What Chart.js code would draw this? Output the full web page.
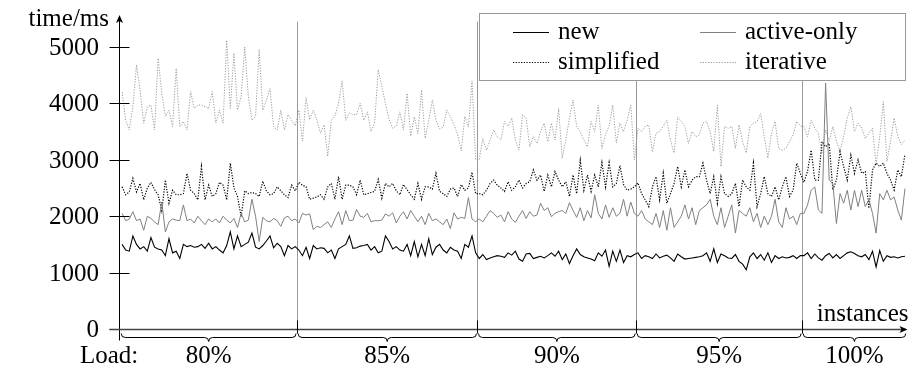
<!DOCTYPE html>
<html>
<head>
<meta charset="utf-8">
<script src="https://cdn.jsdelivr.net/npm/chart.js@4.4.0/dist/chart.umd.min.js"></script>
<style>
  html, body { margin: 0; padding: 0; background: #fff; }
</style>
</head>
<body>
<canvas id="chart" width="910" height="375"></canvas>
<script>
// Load groups along the x axis and how many instances each one holds
const loadLabels = ['80%', '85%', '90%', '95%', '100%'];
const segmentSizes = [49, 50, 44, 46, 29];
const yTicks = [0, 1000, 2000, 3000, 4000, 5000];

// time/ms per instance
const newTimes = [
  1500,1400,1380,1650,1500,1420,1460,1380,1620,1450,1420,1400,1300,1600,1350,1380,1250,1500,1460,1480,1450,1460,1500,1430,1520,1420,1460,1400,1350,1480,1720,1420,1650,1460,1500,1540,1700,1450,1420,1480,1560,1650,1440,1520,1460,1300,1480,1420,1460,
  1400,1300,1450,1250,1480,1420,1440,1430,1350,1400,1250,1420,1460,1500,1650,1430,1440,1470,1480,1500,1400,1460,1350,1380,1650,1550,1420,1460,1400,1380,1500,1300,1550,1280,1500,1300,1600,1320,1450,1500,1400,1350,1450,1400,1380,1250,1500,1450,1650,1350,
  1250,1320,1230,1260,1280,1300,1290,1270,1350,1310,1380,1240,1200,1330,1340,1250,1270,1290,1260,1300,1350,1290,1380,1230,1330,1160,1300,1420,1320,1280,1260,1240,1210,1350,1290,1400,1110,1380,1200,1400,1180,1300,1280,1320,
  1350,1250,1300,1280,1250,1330,1260,1290,1310,1260,1200,1330,1280,1240,1250,1260,1270,1280,1300,1350,1200,1420,1180,1330,1300,1260,1250,1320,1200,1150,1050,1280,1350,1250,1320,1220,1350,1180,1300,1250,1280,1260,1270,1300,1250,1300,
  1300,1350,1250,1330,1260,1220,1300,1340,1260,1320,1250,1300,1350,1370,1340,1300,1280,1320,1230,1380,1100,1390,1200,1300,1270,1280,1260,1280,1290
];

const activeOnlyTimes = [
  2050,1920,1950,2080,1920,1950,1750,2000,1960,1900,1850,2250,1720,1900,1950,1930,1920,2200,1920,1950,1880,2000,1920,1850,1950,1900,1950,1880,2000,1930,1880,1960,1800,2050,1900,1930,2300,2000,1550,1980,1920,1900,1960,1920,1820,1970,2000,1920,1950,
  1880,2050,2020,2040,1760,1820,1800,1850,1900,1800,1950,2080,1850,2100,1920,1930,2120,2000,1980,2050,1900,1920,1920,1930,2040,2000,2060,1880,2000,2080,1950,2100,2000,1900,2000,1850,2050,1920,1950,1900,1850,1950,1780,2060,1950,1980,1960,2330,1950,1900,
  1950,1900,2000,2100,2050,1980,2020,1900,2080,1950,1890,2000,2100,1960,2080,2000,2020,2230,2100,2150,1990,2050,2080,2100,2050,2240,2100,1980,2150,1920,2100,1970,2380,2050,1950,2200,1980,2150,2000,2050,2300,2000,2250,2050,
  2000,2100,1950,1900,1850,2050,1800,2100,1750,2150,1800,1900,2000,2200,1950,2150,1850,2100,2150,2200,2300,2000,1850,2150,1800,2000,2200,1700,2100,2050,2000,2150,1900,2050,1800,2000,1850,2000,2300,1900,1800,2150,1950,2000,1850,2050,
  2050,2200,2460,2520,2110,2050,4360,2640,2580,1870,2400,2230,2460,2110,2460,2170,2460,2170,2290,2050,1700,2400,2290,2460,2290,2340,2110,1930,2490
];

const simplifiedTimes = [
  2520,2380,2430,2670,2430,2580,2290,2500,2600,2470,2380,2100,2640,2230,2460,2380,2380,2400,2760,2460,2400,2290,2880,2290,2550,2350,2400,2600,2550,2290,2940,2500,2350,1990,2450,2400,2420,2400,2350,2620,2450,2380,2400,2520,2450,2380,2330,2550,2450,
  2600,2550,2520,2300,2320,2340,2380,2300,2520,2580,2300,2700,2300,2550,2550,2520,2380,2640,2380,2400,2420,2440,2650,2320,2580,2520,2580,2450,2380,2560,2470,2380,2300,2580,2300,2520,2520,2480,2760,2440,2400,2350,2480,2500,2350,2560,2460,2500,2780,2400,
  2400,2380,2460,2580,2640,2550,2500,2440,2610,2460,2520,2640,2500,2580,2610,2820,2640,2730,2440,2730,2520,2790,2640,2520,2610,2350,2730,2400,2990,2460,2730,2440,2730,2520,2950,2520,2950,2520,2580,2900,2560,2460,2480,2520,
  2590,2400,2290,2170,2520,2700,2290,2760,2230,2400,2580,2880,2520,2820,2520,2640,2700,2700,2940,2640,2400,2700,2230,2700,2400,2350,2400,2580,2170,2640,2520,2460,2940,2170,2400,2700,2400,2350,2520,2290,2520,2700,2350,2460,2940,2760,
  2600,2800,3170,2640,2640,3320,3230,3290,2465,2640,3140,2880,2640,3080,2760,3000,2760,2790,2140,2820,2940,2880,2940,2760,2640,2465,2820,2700,3100
];

const iterativeTimes = [
  4200,3700,3530,3940,4680,4240,3650,3940,3970,3530,4800,4180,3770,3880,3590,4620,3590,3680,3530,4210,3910,3970,3970,3940,3910,4210,3650,3880,3650,5120,3910,4890,3880,4120,5000,4120,3700,3770,4950,3880,4060,4260,3590,3530,3880,3530,3800,3700,3600,
  3880,3330,4100,3710,3880,3700,3470,3620,3060,3700,3780,4000,4400,3700,3830,3800,3800,4000,3700,3850,3500,3650,4600,4300,4000,3720,3560,3600,3850,3530,4180,3420,3760,3460,4240,3380,3700,4060,3700,3550,3580,3880,3770,3620,3450,3160,3770,3580,4400,3000,
  3000,3380,3170,3350,3530,3410,3350,3680,3590,3740,3350,3170,3800,3740,3230,3410,3290,3500,3650,3320,3650,3350,3910,3030,3350,3740,4060,3590,3500,3350,3230,3680,3500,3970,3200,3450,3600,3970,3300,3650,3500,3700,3970,3000,
  3560,3500,3590,3620,3140,3470,3500,3590,3700,3350,3120,3760,3680,3590,3290,3500,3410,3440,3650,3680,3500,3150,3970,2880,3590,3560,3590,3200,3620,3320,3120,3590,3650,3680,3820,3410,3030,3470,3680,3200,3170,3200,3320,3440,3680,3600,
  3590,3410,3700,3560,3470,3120,3530,3330,3590,3330,3150,3410,3740,3940,3500,3650,3560,3380,3470,3560,2910,3410,4030,2970,3330,3740,3410,3270,3350
];

const FONT = '25px "Liberation Serif", "Times New Roman", serif';

function toPoints(values) {
    return values.map((v, i) => ({ x: i, y: v }));
}

function segmentStarts() {
    const starts = [0];
    segmentSizes.forEach(n => starts.push(starts[starts.length - 1] + n));
    return starts;
}

function drawBrace(ctx, x0, x1, y0) {
    const xm = (x0 + x1) / 2;
    const h = 4;
    ctx.beginPath();
    ctx.moveTo(x0, y0);
    ctx.quadraticCurveTo(x0, y0 + h, x0 + h, y0 + h);
    ctx.lineTo(xm - h, y0 + h);
    ctx.quadraticCurveTo(xm, y0 + h, xm, y0 + 2 * h);
    ctx.quadraticCurveTo(xm, y0 + h, xm + h, y0 + h);
    ctx.lineTo(x1 - h, y0 + h);
    ctx.quadraticCurveTo(x1, y0 + h, x1, y0);
    ctx.stroke();
}

function arrowUp(ctx, x, y) {
    ctx.beginPath();
    ctx.moveTo(x, y);
    ctx.lineTo(x - 3.5, y + 8);
    ctx.lineTo(x, y + 6);
    ctx.lineTo(x + 3.5, y + 8);
    ctx.closePath();
    ctx.fill();
}

function arrowRight(ctx, x, y) {
    ctx.beginPath();
    ctx.moveTo(x, y);
    ctx.lineTo(x - 8, y - 3.5);
    ctx.lineTo(x - 6, y);
    ctx.lineTo(x - 8, y + 3.5);
    ctx.closePath();
    ctx.fill();
}

const decorPlugin = {
    id: 'decor',
    beforeDatasetsDraw(chart) {
        const ctx = chart.ctx;
        const xs = chart.scales.x, ys = chart.scales.y;
        const base = ys.getPixelForValue(0);
        const top = ys.getPixelForValue(5450);
        const starts = segmentStarts();

        // load-group separators
        ctx.save();
        ctx.strokeStyle = '#9a9a9a';
        ctx.lineWidth = 1;
        starts.slice(1, -1).forEach(s => {
            const px = Math.round(xs.getPixelForValue(s - 0.5)) + 0.5;
            ctx.beginPath();
            ctx.moveTo(px, top);
            ctx.lineTo(px, base);
            ctx.stroke();
        });
        ctx.restore();
    },
    afterDatasetsDraw(chart) {
        const ctx = chart.ctx;
        const xs = chart.scales.x, ys = chart.scales.y;
        const base = Math.round(ys.getPixelForValue(0)) + 0.5;
        const axisX = Math.round(chart.chartArea.left) + 0.5;
        const right = chart.chartArea.right;
        const starts = segmentStarts();

        ctx.save();
        ctx.fillStyle = '#000';
        ctx.strokeStyle = '#000';
        ctx.lineWidth = 1;

        // y axis with ticks and labels
        ctx.beginPath();
        ctx.moveTo(axisX, base + 11);
        ctx.lineTo(axisX, 20);
        ctx.stroke();
        arrowUp(ctx, axisX, 15);

        ctx.font = FONT;
        ctx.textAlign = 'right';
        ctx.textBaseline = 'middle';
        yTicks.forEach(v => {
            const py = Math.round(ys.getPixelForValue(v)) + 0.5;
            ctx.beginPath();
            ctx.moveTo(axisX - 10, py);
            ctx.lineTo(axisX + 10, py);
            ctx.stroke();
            ctx.fillText(String(v), 99, py + 1);
        });
        ctx.textBaseline = 'alphabetic';
        ctx.fillText('time/ms', 109, 26);

        // x axis
        ctx.strokeStyle = '#444';
        ctx.lineWidth = 1.5;
        ctx.beginPath();
        ctx.moveTo(axisX - 10, base);
        ctx.lineTo(right - 2, base);
        ctx.stroke();
        ctx.fillStyle = '#000';
        arrowRight(ctx, right, base);
        ctx.textAlign = 'right';
        ctx.fillText('instances', right + 1, 321);

        // ticks at group borders, braces and load labels
        ctx.strokeStyle = '#000';
        ctx.lineWidth = 1;
        starts.slice(1, -1).forEach(s => {
            const px = Math.round(xs.getPixelForValue(s - 0.5)) + 0.5;
            ctx.beginPath();
            ctx.moveTo(px, base - 9);
            ctx.lineTo(px, base + 4);
            ctx.stroke();
        });
        ctx.textAlign = 'center';
        ctx.textBaseline = 'middle';
        loadLabels.forEach((label, k) => {
            const x0 = xs.getPixelForValue(starts[k] - 0.5) + 1;
            const x1 = xs.getPixelForValue(starts[k + 1] - 0.5) - 1;
            drawBrace(ctx, x0, x1, base + 4);
            ctx.fillText(label, (x0 + x1) / 2, 356);
        });
        ctx.textAlign = 'left';
        ctx.fillText('Load:', 80, 356);

        // legend box
        ctx.fillStyle = '#fff';
        ctx.fillRect(479.5, 13.5, 426, 67);
        ctx.strokeStyle = '#999';
        ctx.strokeRect(479.5, 13.5, 426, 67);
        const slots = [[513, 32], [700, 32], [513, 62], [700, 62]];
        const order = [0, 1, 2, 3];
        order.forEach((di, k) => {
            const ds = chart.data.datasets[di];
            const [lx, ly] = slots[k];
            ctx.strokeStyle = ds.borderColor;
            ctx.lineWidth = ds.borderWidth;
            ctx.setLineDash(ds.borderDash || []);
            ctx.beginPath();
            ctx.moveTo(lx, ly + 0.5);
            ctx.lineTo(lx + 36, ly + 0.5);
            ctx.stroke();
            ctx.setLineDash([]);
            ctx.fillStyle = '#000';
            ctx.textBaseline = 'middle';
            ctx.fillText(ds.label, lx + 45, ly);
        });
        ctx.restore();
    }
};

function initializeChart() {
    const ctx = document.getElementById('chart').getContext('2d');
    const total = segmentSizes.reduce((a, b) => a + b, 0);

    new Chart(ctx, {
        type: 'line',
        data: {
            datasets: [
                { label: 'new', data: toPoints(newTimes), borderColor: '#000', borderWidth: 1.1 },
                { label: 'active-only', data: toPoints(activeOnlyTimes), borderColor: '#808080', borderWidth: 1 },
                { label: 'simplified', data: toPoints(simplifiedTimes), borderColor: '#000', borderWidth: 1.2, borderDash: [1.2, 1.5] },
                { label: 'iterative', data: toPoints(iterativeTimes), borderColor: '#9a9a9a', borderWidth: 1, borderDash: [1.2, 1.5] }
            ]
        },
        options: {
            responsive: false,
            devicePixelRatio: 1,
            animation: false,
            layout: {
                padding: { left: 119, right: 2.5, top: 12, bottom: 46 }
            },
            elements: {
                point: { radius: 0 },
                line: { tension: 0 }
            },
            plugins: {
                legend: { display: false },
                tooltip: { enabled: false }
            },
            scales: {
                x: { type: 'linear', min: -0.85, max: total - 0.3, display: false },
                y: { min: 0, max: 5620, display: false }
            }
        },
        plugins: [decorPlugin]
    });
}

document.addEventListener('DOMContentLoaded', initializeChart);
</script>
</body>
</html>
